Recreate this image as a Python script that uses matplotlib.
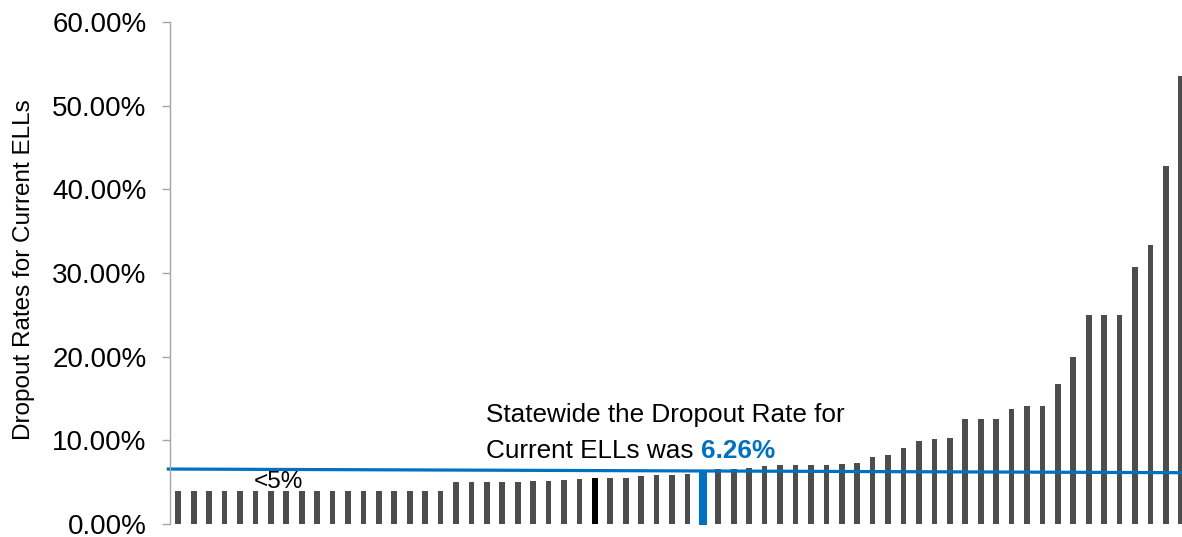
import numpy as np
import matplotlib.pyplot as plt
from matplotlib.ticker import FuncFormatter

plt.rcParams['font.family'] = ['Liberation Sans', 'DejaVu Sans']

# dropout rate (%) per district, sorted
rates = [4.0] * 18 + [
    5.0, 5.0, 5.0, 5.0, 5.0, 5.14, 5.1, 5.26, 5.34, 5.53, 5.45, 5.5,
    5.7, 5.85, 5.9, 6.0, 6.26, 6.6, 6.6, 6.65, 6.9, 7.1, 7.1, 7.1,
    7.1, 7.17, 7.29, 7.97, 8.3, 9.04, 9.9, 10.2, 10.3, 12.5, 12.5, 12.5,
    13.7, 14.1, 14.1, 16.7, 20.0, 25.0, 25.0, 25.0, 30.7, 33.3, 42.8, 53.5,
]
black_idx = 27
state_idx = 34
statewide = 6.26
line_y = [6.57, 6.13]   # hand-drawn statewide line, slightly tilted
yticks = [0, 10, 20, 30, 40, 50, 60]

gray = '#4D4D4D'
blue = '#0070C0'

fig = plt.figure(figsize=(11.82, 5.37), dpi=100)
ax = fig.add_axes([170 / 1182, 13 / 537, 1012 / 1182, 502 / 537])

x = np.arange(len(rates))
colors = [gray] * len(rates)
colors[black_idx] = 'black'
heights = list(rates)
heights[state_idx] = 0
ax.bar(x, heights, width=0.37, color=colors)
# statewide bar in blue, a bit wider and dipping below the axis
ax.bar(state_idx, statewide + 0.15, bottom=-0.15, width=0.47, color=blue, clip_on=False)

ax.plot([-0.65, 65.3], line_y, color=blue, lw=2.3, clip_on=False)

ax.set_xlim(-0.54, 65.05)
ax.set_ylim(0, 60)
ax.set_yticks(yticks)
ax.yaxis.set_major_formatter(FuncFormatter(lambda v, p: f'{v:.2f}%'))
ax.tick_params(axis='y', length=5.8, width=1, color='#A6A6A6', pad=11, labelsize=20)
ax.set_xticks([])
for s in ['top', 'right', 'bottom']:
    ax.spines[s].set_visible(False)
ax.spines['left'].set_color('#A6A6A6')
ax.spines['left'].set_linewidth(1)

ax.set_ylabel('Dropout Rates for Current ELLs', fontsize=17.5)
ax.yaxis.set_label_coords(-0.133, 0.506)

ax.text(6.5, 4.27, '<5%', fontsize=17.5, ha='center', va='baseline')

ax.text(19.94, 12.2, 'Statewide the Dropout Rate for', fontsize=18.8, va='baseline')
t2 = ax.text(19.94, 7.89, 'Current ELLs was ', fontsize=18.8, va='baseline')
ax.annotate('6.26%', xy=(1, 0), xycoords=t2, va='bottom', ha='left',
            fontsize=18.8, fontweight='bold', color=blue)

fig.savefig('out.png', dpi=100)
